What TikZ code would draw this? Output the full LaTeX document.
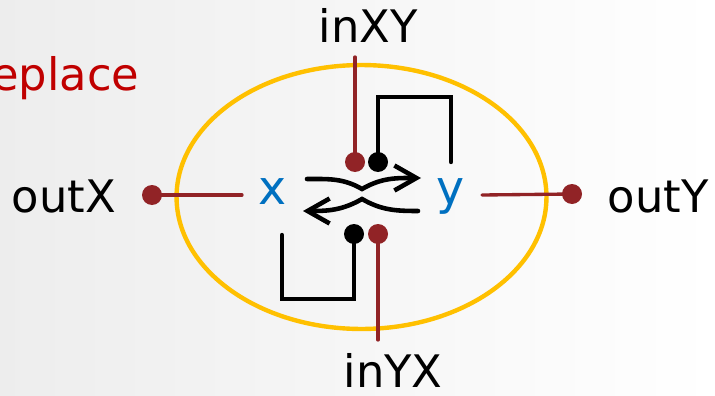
\documentclass[tikz,border=0pt]{standalone}
\usepackage{fontspec}
\setmainfont{DejaVu Sans}
\usetikzlibrary{arrows.meta, positioning, shapes.geometric, calc}

\definecolor{wirered}{RGB}{145,35,38}
\definecolor{varblue}{RGB}{0,112,192}
\definecolor{ringgold}{RGB}{255,192,0}
\definecolor{titlered}{RGB}{192,0,0}

\begin{document}
\begin{tikzpicture}[
x=0.02cm, y=-0.02cm,
lbl/.style={anchor=base, inner sep=0pt, font=\fontsize{25.5}{30}\selectfont},
var/.style={lbl, text=varblue, font=\fontsize{27}{32}\selectfont},
ring/.style={draw=ringgold, line width=2.5pt, ellipse, minimum width=7.4cm, minimum height=5.28cm, inner sep=0pt},
jack/.style={circle, fill=#1, inner sep=0pt, minimum size=0.4cm},
wire/.style={draw=wirered, line width=1.9pt, line cap=round},
fb/.style={draw=black, line width=2.5pt, line cap=round},
flow/.style={-{Straight Barb[length=4.4mm, width=5mm]}, line width=2.6pt, line cap=round}
]
\useasboundingbox (0,0) rectangle (715,395);
\shade[left color=black!7, right color=white] (0,0) rectangle (715,395);

\node[lbl, anchor=base west, text=titlered] (title) at (-9,91) {eplace};
\node[ring] (ring) at (361.5,197) {};

\node[var] (x) at (273,204) {x};
\node[var] (y) at (451,204) {y};

\node[jack=wirered] (ox) at (152,195) {};
\node[jack=wirered] (oy) at (572,194) {};
\node[jack=wirered] (ixy) at (355,162) {};
\node[jack=black] (bxy) at (378,162) {};
\node[jack=black] (byx) at (354,234) {};
\node[jack=wirered] (iyx) at (378,234) {};

\node[lbl] (outX) at (64,212) {outX};
\node[lbl] (outY) at (658,212) {outY};
\node[lbl] (inXY) at (368,43) {inXY};
\node[lbl] (inYX) at (393,387) {inYX};

% free ends
\coordinate (xend) at (242,195);
\coordinate (yend) at (482,195);
\coordinate (ixytop) at (355,57);
\coordinate (iyxbot) at (378,340);
\coordinate (yback) at (451,162);
\coordinate (xback) at (282,235);
\coordinate (xsrc) at (307,179);
\coordinate (ydst) at (421,178);
\coordinate (ysrc) at (418,211);
\coordinate (xdst) at (303,211);

\draw[wire] (ox.center) -- (xend);
\draw[wire] (yend) -- (oy.center);
\draw[wire] (ixytop) -- (ixy.center);
\draw[wire] (iyx.center) -- (iyxbot);

\draw[fb] (bxy.center) -- ++(0,-65) -| (yback);
\draw[fb] (byx.center) -- ++(0,65) -| (xback);

\draw[flow] (xsrc) to[out=0,in=150] ++(55,10) to[out=30,in=180] (ydst);
\draw[flow] (ysrc) to[out=180,in=-30] ++(-56,-12) to[out=210,in=0] (xdst);

\end{tikzpicture}
\end{document}
